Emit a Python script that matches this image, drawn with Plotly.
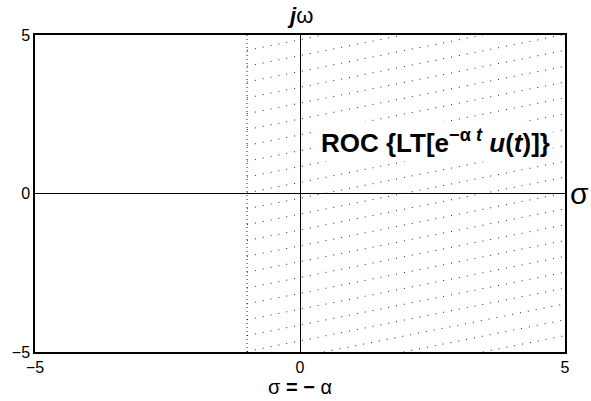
import numpy as np
import plotly.graph_objects as go

# Axis ticks
x_ticks = [-5, 0, 5]
x_tick_text = ["\u22125", "0", "5"]
y_ticks = [-5, 0, 5]
y_tick_text = ["\u22125", "0", "5"]

# ROC region (sigma > -alpha), alpha = 1
alpha = 1.0
roc_left = -alpha
roc_right = 5.0
y_min, y_max = -5.0, 5.0

# Hatch lines: y = slope*x + c
hatch_slope = 1.0 / 3.0
hatch_intercepts = [0.35 + 0.5 * k for k in range(-13, 13)]

hx, hy = [], []
for c in hatch_intercepts:
    x0 = max(roc_left, (y_min - c) / hatch_slope)
    x1 = min(roc_right, (y_max - c) / hatch_slope)
    if x1 <= x0:
        continue
    hx += [x0, x1, None]
    hy += [hatch_slope * x0 + c, hatch_slope * x1 + c, None]

fig = go.Figure()
fig.add_trace(go.Scatter(x=hx, y=hy, mode="lines",
                         line=dict(color="#222222", width=1, dash="1px,7px"),
                         hoverinfo="skip", showlegend=False))
fig.add_trace(go.Scatter(x=[roc_left, roc_left], y=[y_min, y_max], mode="lines",
                         line=dict(color="#222222", width=1, dash="1px,3px"),
                         hoverinfo="skip", showlegend=False))

font = "Liberation Sans, Arial, Helvetica, sans-serif"

fig.update_layout(
    width=591, height=401,
    margin=dict(l=35, r=26, t=35, b=49),
    paper_bgcolor="white", plot_bgcolor="white",
    font=dict(family=font, size=16, color="black"),
    showlegend=False,
    xaxis=dict(range=[-5, 5], tickvals=x_ticks, ticktext=x_tick_text,
               showgrid=False, zeroline=True, zerolinecolor="black", zerolinewidth=1,
               showline=True, mirror=True, linecolor="black", linewidth=1.5,
               ticks="", tickfont=dict(size=16, family=font)),
    yaxis=dict(range=[-5, 5], tickvals=y_ticks, ticktext=y_tick_text,
               showgrid=False, zeroline=True, zerolinecolor="black", zerolinewidth=1,
               showline=True, mirror=True, linecolor="black", linewidth=1.5,
               ticks="", tickfont=dict(size=16, family=font)),
)

fig.add_annotation(x=0, y=1, xref="x", yref="paper", yanchor="bottom", yshift=5,
                   text="<b><i>j</i></b>\u03c9", showarrow=False,
                   font=dict(size=22, family=font, color="black"))
fig.add_annotation(x=0, y=0, xref="x", yref="paper", yanchor="top", yshift=-22,
                   text="\u03c3 <b>=</b> <b>\u2212</b> \u03b1", showarrow=False,
                   font=dict(size=20, family=font, color="black"))
fig.add_annotation(x=1, y=0, xref="paper", yref="y", xanchor="left", xshift=3,
                   text="\u03c3", showarrow=False,
                   font=dict(size=30, family=font, color="black"))
fig.add_annotation(x=2.55, y=1.65, xref="x", yref="y",
                   text="<b>ROC {LT[e<sup>\u2212\u03b1 <i>t</i></sup> <i>u</i>(<i>t</i>)]}</b>",
                   showarrow=False, bgcolor="white", borderpad=3,
                   font=dict(size=26, family=font, color="black"))

fig.write_html("out.html", config={"displayModeBar": False},
               post_script="document.body.style.margin='0';document.body.style.overflow='hidden';")
